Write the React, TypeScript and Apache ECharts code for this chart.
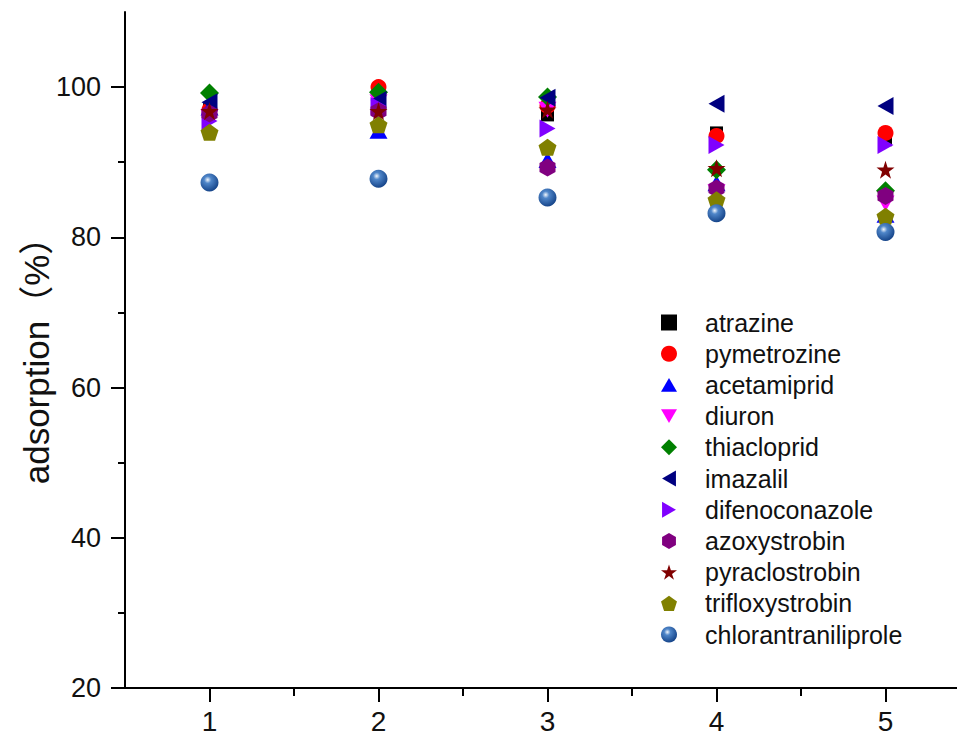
import React, { useEffect, useRef } from "react";
import * as echarts from "echarts";

const xValues = [1, 2, 3, 4, 5];
const seriesNames = [
  "atrazine",
  "pymetrozine",
  "acetamiprid",
  "diuron",
  "thiacloprid",
  "imazalil",
  "difenoconazole",
  "azoxystrobin",
  "pyraclostrobin",
  "trifloxystrobin",
  "chlorantraniliprole",
];
const atrazine = [97.0, 97.5, 96.3, 93.9, 93.0];
const pymetrozine = [97.0, 100.0, 97.5, 93.5, 93.9];
const acetamiprid = [97.3, 94.2, 90.3, 87.2, 83.0];
const diuron = [96.0, 98.0, 97.0, 86.0, 84.5];
const thiacloprid = [99.2, 99.3, 98.7, 89.0, 86.2];
const imazalil = [98.0, 98.3, 98.6, 97.8, 97.5];
const difenoconazole = [95.5, 97.5, 94.5, 92.3, 92.3];
const azoxystrobin = [96.5, 96.8, 89.3, 86.5, 85.5];
const pyraclostrobin = [96.8, 96.8, 97.0, 89.2, 89.0];
const trifloxystrobin = [94.0, 95.0, 92.0, 85.0, 82.8];
const chlorantraniliprole = [87.3, 87.8, 85.3, 83.2, 80.7];

const yMajorTicks = [20, 40, 60, 80, 100];
const yMinorTicks = [30, 50, 70, 90];
const xMajorTicks = [1, 2, 3, 4, 5];
const xMinorTicks = [1.5, 2.5, 3.5, 4.5];

const allValues = [
  atrazine,
  pymetrozine,
  acetamiprid,
  diuron,
  thiacloprid,
  imazalil,
  difenoconazole,
  azoxystrobin,
  pyraclostrobin,
  trifloxystrobin,
  chlorantraniliprole,
];

const sphere = {
  type: "radial",
  x: 0.4,
  y: 0.35,
  r: 0.65,
  colorStops: [
    { offset: 0, color: "#f2f7fd" },
    { offset: 0.3, color: "#4f86c9" },
    { offset: 1, color: "#16458a" },
  ],
};

const styles: any[] = [
  { symbol: "rect", size: 13, color: "#000000" },
  { symbol: "circle", size: 16, color: "#ff0000" },
  { symbol: "path://M5,0 L10,8.66 L0,8.66 Z", size: [18, 16], color: "#0000ff" },
  { symbol: "path://M0,0 L10,0 L5,8.66 Z", size: [18, 16], color: "#ff00ff" },
  { symbol: "diamond", size: 19, color: "#008000" },
  { symbol: "path://M8.66,0 L8.66,10 L0,5 Z", size: [16, 18], color: "#000080" },
  { symbol: "path://M0,0 L8.66,5 L0,10 Z", size: [16, 18], color: "#8000ff" },
  {
    symbol: "path://M5,0 L9.33,2.5 L9.33,7.5 L5,10 L0.67,7.5 L0.67,2.5 Z",
    size: [16, 18],
    color: "#800080",
  },
  {
    symbol:
      "path://M5,0 L6.12,3.46 L9.76,3.45 L6.81,5.59 L7.94,9.05 L5,6.9 L2.06,9.05 L3.19,5.59 L0.24,3.45 L3.88,3.46 Z",
    size: 18,
    color: "#800000",
  },
  {
    symbol: "path://M5,0 L9.76,3.45 L7.94,9.05 L2.06,9.05 L0.24,3.45 Z",
    size: [18, 17],
    color: "#808000",
  },
  { symbol: "circle", size: 18, color: sphere },
];

const FONT = "'Liberation Sans', Arial, sans-serif";
const NARROW = "'Liberation Sans Narrow', 'Arial Narrow', 'Liberation Sans', Arial, sans-serif";

export default function App() {
  const ref = useRef<HTMLDivElement>(null);
  useEffect(() => {
    if (!ref.current) return;
    const chart = echarts.init(ref.current, null, { renderer: "svg" });
    const series = seriesNames.map((name, i) => ({
      name,
      type: "scatter",
      xAxisIndex: 0,
      yAxisIndex: 0,
      symbol: styles[i].symbol,
      symbolSize: styles[i].size,
      itemStyle: { color: styles[i].color, opacity: 1 },
      emphasis: { disabled: true },
      data: xValues.map((x, j) => [x, allValues[i][j]]),
    }));
    const axisLine = { show: true, lineStyle: { color: "#000", width: 2 } };
    chart.setOption({
      animation: false,
      backgroundColor: "#ffffff",
      grid: { left: 125, right: 0, top: 12, bottom: 45, containLabel: false },
      legend: {
        orient: "vertical",
        left: 656,
        top: 305,
        itemWidth: 16,
        itemHeight: 16,
        itemGap: 6.2,
        selectedMode: false,
        textStyle: {
          fontFamily: FONT,
          fontSize: 25,
          lineHeight: 25,
          color: "#111",
          padding: [0, 0, 0, 23],
        },
        data: seriesNames,
      },
      xAxis: [
        {
          type: "value",
          min: 0.5,
          max: 5.5,
          position: "bottom",
          axisLine,
          splitLine: { show: false },
          axisTick: {
            show: true,
            inside: false,
            length: 14,
            customValues: xMajorTicks,
            lineStyle: { color: "#000", width: 2 },
          },
          axisLabel: {
            customValues: xMajorTicks,
            margin: 19,
            fontFamily: NARROW,
            fontSize: 28,
            color: "#111",
          },
        },
        {
          type: "value",
          min: 0.5,
          max: 5.5,
          position: "bottom",
          axisLine: { show: false },
          splitLine: { show: false },
          axisTick: {
            show: true,
            length: 8,
            customValues: xMinorTicks,
            lineStyle: { color: "#000", width: 2 },
          },
          axisLabel: { show: false },
        },
      ],
      yAxis: [
        {
          type: "value",
          min: 20,
          max: 110,
          position: "left",
          axisLine,
          splitLine: { show: false },
          axisTick: {
            show: true,
            length: 14,
            customValues: yMajorTicks,
            lineStyle: { color: "#000", width: 2 },
          },
          axisLabel: {
            customValues: yMajorTicks,
            margin: 24,
            fontFamily: FONT,
            fontSize: 27,
            color: "#111",
          },
        },
        {
          type: "value",
          min: 20,
          max: 110,
          position: "left",
          axisLine: { show: false },
          splitLine: { show: false },
          axisTick: {
            show: true,
            length: 7,
            customValues: yMinorTicks,
            lineStyle: { color: "#000", width: 2 },
          },
          axisLabel: { show: false },
        },
      ],
      graphic: [
        {
          type: "text",
          x: 36,
          y: 352,
          rotation: Math.PI / 2,
          style: {
            text: "adsorption（%）",
            fontFamily: "'Liberation Sans', Arial, 'Noto Sans CJK SC', sans-serif",
            fontSize: 35,
            fill: "#111",
            align: "center",
            verticalAlign: "middle",
          },
        },
      ],
      series,
    });
    return () => chart.dispose();
  }, []);
  return (
    <div
      style={{
        position: "absolute",
        left: 0,
        top: 0,
        width: 957,
        height: 735,
        overflow: "hidden",
      }}
    >
      <div ref={ref} style={{ width: 970, height: 735 }} />
    </div>
  );
}
